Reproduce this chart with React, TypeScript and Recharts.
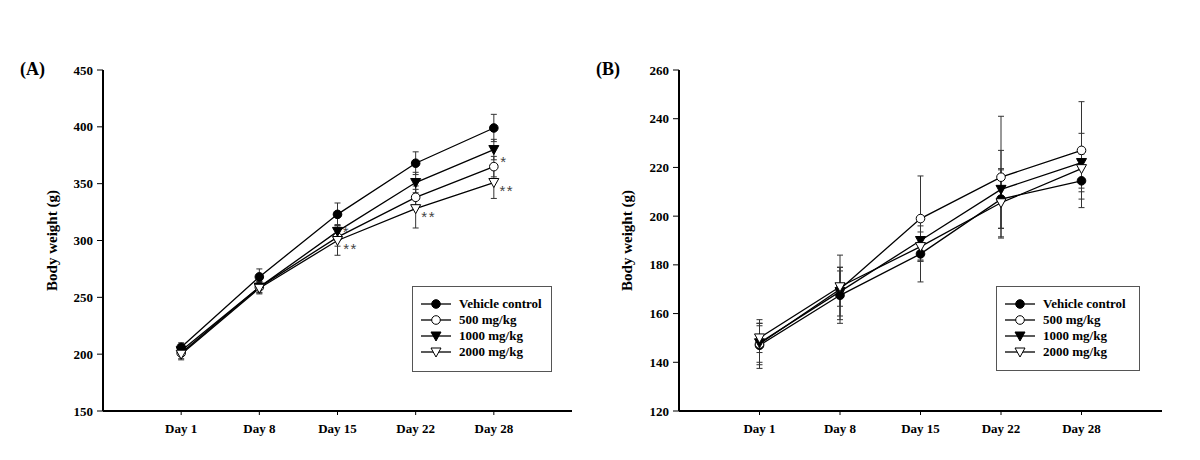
import React from "react";
import { LineChart, Line, XAxis, YAxis, ErrorBar, Legend, LabelList } from "recharts";

// ---------- data ----------
const days = ["Day 1", "Day 8", "Day 15", "Day 22", "Day 28"];
const seriesKeys = ["vehicle", "mg500", "mg1000", "mg2000"];
const seriesNames = ["Vehicle control", "500 mg/kg", "1000 mg/kg", "2000 mg/kg"];

// Panel A
const vehicleA = [206, 268, 323, 368, 399];
const mg500A = [201, 259, 303, 338, 365];
const mg1000A = [203, 259, 308, 351, 380];
const mg2000A = [200, 258, 300, 328, 351];
const vehicleAsd = [4, 7, 10, 10, 12];
const mg500Asd = [5, 5, 8, 10, 9];
const mg1000Asd = [4, 5, 6, 9, 9];
const mg2000Asd = [5, 5, 13, 17, 14];
const sig500A = ["", "", "", "", "*"];
const sig1000A = ["", "", "*", "", ""];
const sig2000A = ["", "", "**", "**", "**"];
const yTicksA = [150, 200, 250, 300, 350, 400, 450];

// Panel B
const vehicleB = [147, 167.5, 184.5, 207, 214.5];
const mg500B = [147.5, 170, 199, 216, 227];
const mg1000B = [148, 169, 190, 211, 222];
const mg2000B = [150, 171, 187.5, 205.5, 219.5];
const vehicleBsd = [8, 10, 11.5, 12, 11];
const mg500Bsd = [10, 14, 17.5, 25, 20];
const mg1000Bsd = [8, 10, 8, 16, 12];
const mg2000Bsd = [6, 8, 6, 14, 8];
const noSig = ["", "", "", "", ""];
const yTicksB = [120, 140, 160, 180, 200, 220, 240, 260];

const buildRows = (
  v: number[], a: number[], b: number[], c: number[],
  vs: number[], as: number[], bs: number[], cs: number[],
  sa: string[], sb: string[], sc: string[]
) =>
  days.map((d, i) => ({
    x: i + 1,
    day: d,
    vehicle: v[i], mg500: a[i], mg1000: b[i], mg2000: c[i],
    vehicleSd: vs[i], mg500Sd: as[i], mg1000Sd: bs[i], mg2000Sd: cs[i],
    sig500: sa[i], sig1000: sb[i], sig2000: sc[i],
  }));

const dataA = buildRows(vehicleA, mg500A, mg1000A, mg2000A, vehicleAsd, mg500Asd, mg1000Asd, mg2000Asd, sig500A, sig1000A, sig2000A);
const dataB = buildRows(vehicleB, mg500B, mg1000B, mg2000B, vehicleBsd, mg500Bsd, mg1000Bsd, mg2000Bsd, noSig, noSig, noSig);

// ---------- styles ----------
const FONT = '"Liberation Serif", "Times New Roman", serif';
const markerTypes: Record<string, string> = {
  vehicle: "filledCircle",
  mg500: "openCircle",
  mg1000: "filledTri",
  mg2000: "openTri",
};

function Marker({ type, cx, cy }: { type: string; cx: number; cy: number }) {
  if (cx == null || cy == null) return null;
  if (type === "filledCircle")
    return <circle cx={cx} cy={cy} r={4.3} fill="#000" stroke="#000" strokeWidth={1} />;
  if (type === "openCircle")
    return <circle cx={cx} cy={cy} r={4.3} fill="#fff" stroke="#000" strokeWidth={1} />;
  const d = `M${cx - 5},${cy - 4} L${cx + 5},${cy - 4} L${cx},${cy + 5} Z`;
  if (type === "filledTri") return <path d={d} fill="#000" stroke="#000" strokeWidth={1} />;
  return <path d={d} fill="#fff" stroke="#000" strokeWidth={1} />;
}

const dotFor = (key: string) => (p: any) => (
  <Marker key={`${key}-${p.index}`} type={markerTypes[key]} cx={p.cx} cy={p.cy} />
);

const sigContent = (dx: number, dy: number) => (p: any) => {
  const { x, y, value, index } = p;
  if (!value) return null;
  return (
    <text
      key={`sig-${index}-${dx}`}
      x={x + dx}
      y={y + dy + 8}
      textAnchor="middle"
      fontFamily='"Liberation Sans", Arial, sans-serif'
      fontSize={15}
      fill="#444"
      letterSpacing={1.5}
    >
      {value}
    </text>
  );
};

const makeLegend = (w: number, h: number) => (props: any) => {
  const payload = [...(props.payload || [])].sort(
    (a: any, b: any) => seriesKeys.indexOf(a.dataKey) - seriesKeys.indexOf(b.dataKey)
  );
  return (
    <div
      style={{
        width: w,
        height: h,
        boxSizing: "border-box",
        border: "1px solid #555",
        background: "#fff",
        paddingTop: 9,
        paddingLeft: 8,
        fontFamily: FONT,
        fontWeight: "bold",
        fontSize: 13,
        color: "#000",
      }}
    >
      {payload.map((entry: any, i: number) => {
        const key = entry.dataKey || seriesKeys[i];
        return (
          <div key={i} style={{ display: "flex", alignItems: "center", height: 16, whiteSpace: "nowrap" }}>
            <svg width={30} height={14} style={{ display: "block" }}>
              <line x1={0} y1={7} x2={30} y2={7} stroke="#000" strokeWidth={1.3} />
              <Marker type={markerTypes[key]} cx={15} cy={7} />
            </svg>
            <span style={{ marginLeft: 8, lineHeight: "16px" }}>{entry.value}</span>
          </div>
        );
      })}
    </div>
  );
};

const tickStyle = { fontFamily: FONT, fontWeight: "bold" as const, fontSize: 13, fill: "#000" };

function Panel({
  data, yDomain, yTicks, margin, yWidth, legendBox, showSig,
}: {
  data: any[]; yDomain: [number, number]; yTicks: number[]; margin: any; yWidth: number;
  legendBox: { left: number; top: number; width: number; height: number }; showSig: boolean;
}) {
  return (
    <LineChart width={600} height={460} data={data} margin={margin}>
      <XAxis
        dataKey="x"
        type="number"
        domain={[0, 6]}
        ticks={[1, 2, 3, 4, 5]}
        allowDecimals={false}
        tickFormatter={(v: number) => days[v - 1] ?? ""}
        axisLine={{ stroke: "#000", strokeWidth: 2 }}
        tickLine={{ stroke: "#000" }}
        tickSize={4}
        tickMargin={9}
        tick={tickStyle}
        height={30}
      />
      <YAxis
        domain={yDomain}
        ticks={yTicks}
        type="number"
        allowDataOverflow
        axisLine={{ stroke: "#000", strokeWidth: 2 }}
        tickLine={{ stroke: "#000" }}
        tickSize={6}
        tickMargin={4}
        tick={tickStyle}
        width={yWidth}
        label={{
          value: "Body weight (g)",
          angle: -90,
          position: "insideLeft",
          offset: 0,
          style: { textAnchor: "middle", fontFamily: FONT, fontWeight: "bold", fontSize: 15, fill: "#000" },
        }}
      />
      <Legend
        layout="horizontal"
        align="center"
        verticalAlign="middle"
        itemSorter={null as any}
        wrapperStyle={{ ...legendBox }}
        content={makeLegend(legendBox.width, legendBox.height)}
      />
      {seriesKeys.map((k, i) => (
        <Line
          key={k}
          dataKey={k}
          name={seriesNames[i]}
          type="linear"
          stroke="#000"
          strokeWidth={1.3}
          dot={dotFor(k)}
          activeDot={false}
          isAnimationActive={false}
        >
          <ErrorBar dataKey={`${k}Sd`} width={3} stroke="#333" strokeWidth={1} direction="y" isAnimationActive={false} />
          {showSig && k === "mg500" && <LabelList dataKey="sig500" content={sigContent(10, -8)} />}
          {showSig && k === "mg1000" && <LabelList dataKey="sig1000" content={sigContent(9, -2)} />}
          {showSig && k === "mg2000" && <LabelList dataKey="sig2000" content={sigContent(13, 5)} />}
        </Line>
      ))}
    </LineChart>
  );
}

export default function App() {
  return (
    <div style={{ position: "absolute", left: 0, top: 0, width: 1200, height: 460, background: "#fff" }}>
      <div style={{ position: "absolute", left: 0, top: 0 }}>
        <Panel
          data={dataA}
          yDomain={[150, 450]}
          yTicks={yTicksA}
          margin={{ top: 70, right: 28, bottom: 19, left: 52 }}
          yWidth={51}
          legendBox={{ left: 412, top: 286, width: 140, height: 86 }}
          showSig
        />
      </div>
      <div style={{ position: "absolute", left: 600, top: 0 }}>
        <Panel
          data={dataB}
          yDomain={[120, 260]}
          yTicks={yTicksB}
          margin={{ top: 70, right: 38, bottom: 19, left: 27 }}
          yWidth={52}
          legendBox={{ left: 396, top: 286, width: 144, height: 85 }}
          showSig={false}
        />
      </div>
      <div style={{ position: "absolute", left: 20, top: 59, fontFamily: FONT, fontWeight: "bold", fontSize: 18 }}>(A)</div>
      <div style={{ position: "absolute", left: 596, top: 59, fontFamily: FONT, fontWeight: "bold", fontSize: 18 }}>(B)</div>
    </div>
  );
}
